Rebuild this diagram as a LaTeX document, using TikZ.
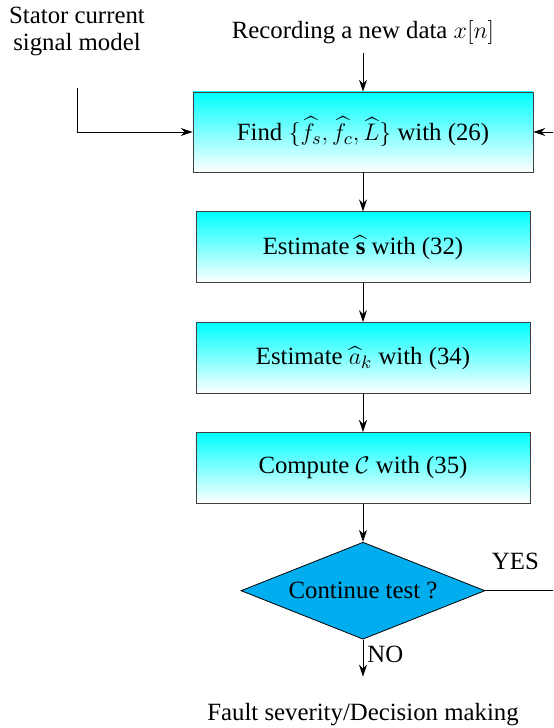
\documentclass[tikz,border=0pt]{standalone}
\usepackage{amsmath}
\usepackage{amssymb}
\usepackage{fontspec}
\setmainfont{Liberation Serif}
\usepackage{tikz}
\usetikzlibrary{arrows.meta,positioning,shapes.geometric}
\definecolor{diacyan}{RGB}{0,174,239}

\begin{document}
\begin{tikzpicture}[
    node distance=20pt,
    >={Stealth[length=6pt,width=4pt]},
    font=\fontsize{12.4}{13.5}\selectfont,
    process/.style={
		rectangle,
		draw=black!75,
		top color=cyan,
		middle color=cyan!65,
		bottom color=white,
		text centered,
		minimum width=167pt,
		minimum height=35.5pt
	},
	decision/.style={
		diamond,
		draw=black,
		fill=diacyan,
		aspect=2.5,
		inner sep=1pt,
		minimum width=122pt,
		minimum height=48.5pt
	},
	txt/.style={
		align=center,
		inner sep=0pt
	}
  ]

 % // page frame
 \useasboundingbox (-181.5pt,66pt) rectangle (95pt,-298pt);
 \clip (-181.5pt,66pt) rectangle (95pt,-298pt);

 \node [process, minimum width=170pt, minimum height=40pt] (find) at (0,0)
 {Find $\{\widehat{f}_s, \widehat{f}_c, \widehat{L}\}$ with (26)};
 \node [process, below=19.5pt of find] (estS) {Estimate $\widehat{\mathbf{s}}$ with (32)};
 \node [process, below=19.5pt of estS] (estA) {Estimate $\widehat{a}_k$ with (34)};
 \node [process, below=19pt of estA] (comp) {Compute $\mathcal{C}$ with (35)};
 \node [decision, below=19pt of comp] (cont) {Continue test ?};

 % // inputs
 \node [txt] (rec) at (0,49.5pt) {Recording a new data $x[n]$};
 \node [txt] (model) at (-143pt,50.5pt) {Stator current\\signal model};
 \coordinate (modelin) at (-143pt,22pt);

 % // output
 \coordinate [below=18.5pt of cont.south] (noend);
 \node [txt, below=13pt of noend] (fault) {Fault severity/Decision making};

 \draw [->, shorten <=4pt] (rec) -- (find);
 \draw [->] (modelin) |- (find.west);
 \draw [->] (find) -- (estS);
 \draw [->] (estS) -- (estA);
 \draw [->] (estA) -- (comp);
 \draw [->] (comp) -- (cont);
 \draw [->] (cont.east) -- node [pos=0.375, above=7pt] {YES} ++(40pt,0) |- (find.east);
 \draw [->] (cont.south) -- node [right, pos=0.4, inner sep=2pt] {NO} (noend);

\end{tikzpicture}
\end{document}
